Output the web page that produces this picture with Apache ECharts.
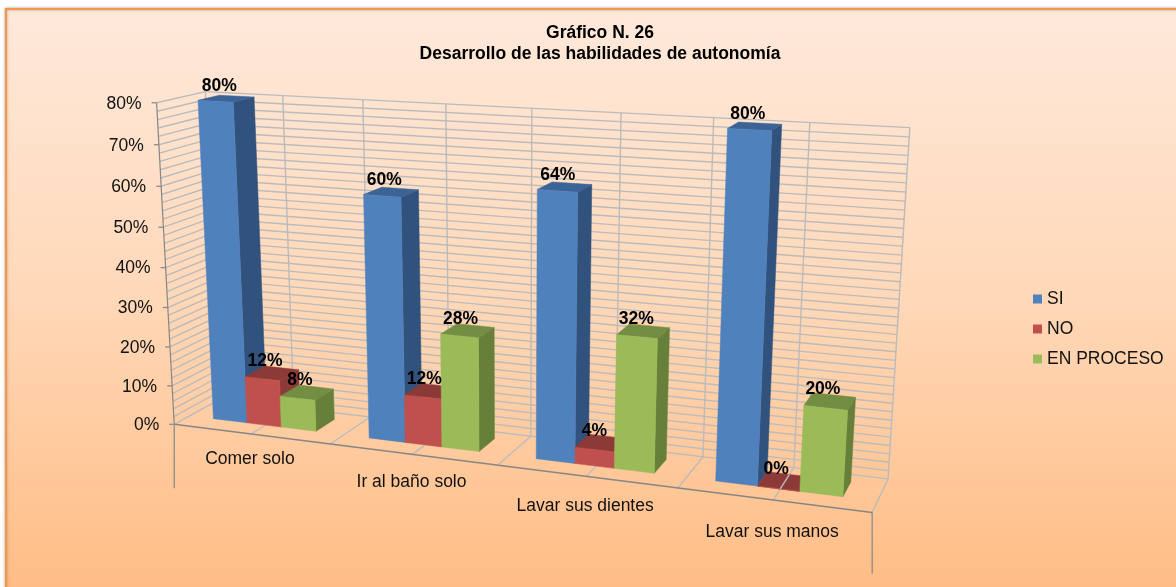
<!DOCTYPE html>
<html>
<head>
<meta charset="utf-8">
<title>Gráfico N. 26</title>
<script src="https://cdn.jsdelivr.net/npm/echarts@6/dist/echarts.min.js"></script>
<style>
html, body { margin: 0; padding: 0; background: #fff; }
#Mycharts { width: 1176px; height: 587px; }
</style>
</head>
<body>
<div id="Mycharts"></div>
<script>
const categories = ['Comer solo', 'Ir al baño solo', 'Lavar sus dientes', 'Lavar sus manos']
const si = [0.80, 0.60, 0.64, 0.80]
const no = [0.12, 0.12, 0.04, 0]
const enProceso = [0.08, 0.28, 0.32, 0.20]
const yTicks = [0, 0.1, 0.2, 0.3, 0.4, 0.5, 0.6, 0.7, 0.8]
const yTickLabels = ['0%', '10%', '20%', '30%', '40%', '50%', '60%', '70%', '80%']
const yMinor = 0.02

// camara: puntos de la caja 3D (u, v, prof, peso) -> pantalla, se resuelve por minimos cuadrados
const anchors = [
  [0, 0, 0, 175, 423, 4], [0, 1, 0, 155, 103, 2], [0, 1, 1, 208, 92, 1], [0, 0, 1, 216, 405, 1],
  [1, 1, 1, 909, 127, 1], [1, 0, 1, 888, 476, 1], [1, 0, 0, 872, 514, 4],
  [0.5, 0, 0, 498, 465, 2], [0.5, 1, 1, 533, 108, 1], [0.5, 0, 1, 532, 433, 1]
]

function solveCamera (pts) {
  const n = 11
  const A = Array.from({ length: n }, () => new Array(n + 1).fill(0))
  pts.forEach(p => {
    const [u, v, d, x, y, wt] = p
    const rows = [
      [u, v, d, 1, 0, 0, 0, 0, -x * u, -x * v, -x * d, x],
      [0, 0, 0, 0, u, v, d, 1, -y * u, -y * v, -y * d, y]
    ]
    rows.forEach(r => {
      for (let i = 0; i < n; i++) {
        for (let j = 0; j <= n; j++) A[i][j] += wt * r[i] * r[j]
      }
    })
  })
  for (let i = 0; i < n; i++) {
    let best = i
    for (let k = i + 1; k < n; k++) if (Math.abs(A[k][i]) > Math.abs(A[best][i])) best = k
    ;[A[i], A[best]] = [A[best], A[i]]
    for (let k = 0; k < n; k++) {
      if (k === i) continue
      const f = A[k][i] / A[i][i]
      for (let j = i; j <= n; j++) A[k][j] -= f * A[i][j]
    }
  }
  return A.map((r, i) => r[n] / r[i])
}

const cam = solveCamera(anchors)
function project (u, v, d) {
  const w = cam[8] * u + cam[9] * v + cam[10] * d + 1
  return [
    (cam[0] * u + cam[1] * v + cam[2] * d + cam[3]) / w,
    (cam[4] * u + cam[5] * v + cam[6] * d + cam[7]) / w
  ]
}

// pasa un punto del grid plano de echarts a la caja en perspectiva
function warp (cs, pt, d) {
  return project((pt[0] - cs.x) / cs.width, (cs.y + cs.height - pt[1]) / cs.height, d)
}

const barW = 0.222
const barShift = -0.009
const depthFront = 0.33
const depthBack = 0.78
const axisColor = '#868686'
const gridColor = '#BBBBBB'
const fontName = '"Liberation Sans", Arial, sans-serif'

function line (a, b, color, width) {
  return {
    type: 'line',
    shape: { x1: a[0], y1: a[1], x2: b[0], y2: b[1] },
    style: { stroke: color, lineWidth: width }
  }
}

function poly (pts, fill) {
  return { type: 'polygon', shape: { points: pts }, style: { fill: fill, stroke: fill, lineWidth: 0.5 } }
}

function renderFrame (params, api) {
  const cs = params.coordSys
  const out = []
  const yMax = yTicks[yTicks.length - 1]
  const left = cs.x
  const right = cs.x + cs.width
  const band = api.size([1, 0])[0]
  // lineas horizontales de pared lateral y fondo
  for (let k = 0; k <= Math.round(yMax / yMinor); k++) {
    const y = api.coord([0, k * yMinor])[1]
    out.push(line(warp(cs, [left, y], 0), warp(cs, [left, y], 1), gridColor, 1.4))
    out.push(line(warp(cs, [left, y], 1), warp(cs, [right, y], 1), gridColor, 1.4))
  }
  // verticales del fondo y lineas del piso cada media categoria
  const top = api.coord([0, yMax])[1]
  const base = api.coord([0, 0])[1]
  for (let k = 0; k <= categories.length * 2; k++) {
    const x = left + k * band / 2
    out.push(line(warp(cs, [x, top], 1), warp(cs, [x, base], 1), gridColor, 1.4))
    if (k > 0) out.push(line(warp(cs, [x, base], 0), warp(cs, [x, base], 1), gridColor, 1.4))
  }
  // ejes
  out.push(line(warp(cs, [left, top], 0), warp(cs, [left, base], 0), axisColor, 1.2))
  out.push(line(warp(cs, [left, base], 0), warp(cs, [right, base], 0), axisColor, 1.5))
  const drop = [warp(cs, [left, base], 0), warp(cs, [right, base], 0)]
  out.push(line(drop[0], [drop[0][0], drop[0][1] + 64], axisColor, 1.2))
  out.push(line(drop[1], [drop[1][0], drop[1][1] + 61], axisColor, 1.2))
  yTicks.forEach((t, i) => {
    const p = warp(cs, [left, api.coord([0, t])[1]], 0)
    out.push(line([p[0] - 5, p[1]], p, axisColor, 1.2))
    out.push({
      type: 'text',
      x: p[0] - 15,
      y: p[1] + 1,
      style: { text: yTickLabels[i], fill: '#111', font: '17.5px ' + fontName, align: 'right', verticalAlign: 'middle' }
    })
  })
  categories.forEach((c, i) => {
    const p = warp(cs, [left + (i + 0.5) * band, base], 0)
    out.push({
      type: 'text',
      x: p[0] - 1,
      y: p[1] + 25 + i * 2.5,
      style: { text: c, fill: '#111', font: '17.5px ' + fontName, align: 'center', verticalAlign: 'middle' }
    })
  })
  return { type: 'group', children: out }
}

function barSeries (name, values, idx, colors) {
  return {
    name: name,
    type: 'custom',
    coordinateSystem: 'cartesian2d',
    data: values.map((v, i) => [i, v]),
    itemStyle: { color: colors.front },
    clip: false,
    z: 3,
    renderItem: function (params, api) {
      const cs = params.coordSys
      const band = api.size([1, 0])[0]
      const val = api.value(1)
      const center = api.coord([api.value(0), 0])
      const x0 = center[0] + ((idx - 1.5) * barW + barShift) * band
      const x1 = x0 + barW * band
      const yb = center[1]
      const yt = api.coord([api.value(0), val])[1]
      const p = (x, y, d) => warp(cs, [x, y], d)
      const kids = [
        poly([p(x1, yb, depthFront), p(x1, yb, depthBack), p(x1, yt, depthBack), p(x1, yt, depthFront)], colors.side),
        poly([p(x0, yt, depthFront), p(x1, yt, depthFront), p(x1, yt, depthBack), p(x0, yt, depthBack)], colors.top),
        poly([p(x0, yb, depthFront), p(x1, yb, depthFront), p(x1, yt, depthFront), p(x0, yt, depthFront)], colors.front)
      ]
      if (val === 0) {
        kids.push(line(p(center[0], yb, depthFront), p(center[0], yb, depthBack), gridColor, 1.4))
      }
      const c = p((x0 + x1) / 2, yt, (depthFront + depthBack) / 2)
      kids.push({
        type: 'text',
        x: c[0] - 7,
        y: c[1] - 12,
        z2: 50,
        style: {
          text: Math.round(val * 100) + '%',
          fill: '#000',
          font: 'bold 17.5px ' + fontName,
          align: 'center',
          verticalAlign: 'middle'
        }
      })
      return { type: 'group', children: kids }
    }
  }
}

const Mycharts = echarts.init(document.getElementById('Mycharts'))
Mycharts.setOption({
  animation: false,
  backgroundColor: '#fff',
  graphic: [{
    type: 'rect',
    z: -10,
    shape: { x: 6, y: 9, width: 1300, height: 700 },
    style: {
      stroke: '#F79646',
      lineWidth: 2,
      shadowBlur: 3,
      shadowColor: 'rgba(0,0,0,0.3)',
      fill: new echarts.graphic.LinearGradient(0, 0, 0, 578 / 700, [
        { offset: 0, color: '#FEE9DB' },
        { offset: 0.5, color: '#FFD8B8' },
        { offset: 1, color: '#FFBD86' }
      ])
    }
  }],
  title: {
    text: 'Gráfico N. 26\nDesarrollo de las habilidades de autonomía',
    left: 595,
    top: 18,
    textAlign: 'center',
    textStyle: { fontFamily: fontName, fontSize: 17.5, fontWeight: 'bold', color: '#000', lineHeight: 21 }
  },
  legend: {
    data: ['SI', 'NO', 'EN PROCESO'],
    orient: 'vertical',
    left: 1028,
    top: 285,
    itemWidth: 9,
    itemHeight: 9,
    itemGap: 12,
    icon: 'rect',
    textStyle: { fontFamily: fontName, fontSize: 17.5, color: '#111' }
  },
  grid: { left: 200, right: 200, top: 100, bottom: 100, show: false },
  xAxis: { type: 'category', data: categories, show: false },
  yAxis: { type: 'value', min: 0, max: 0.8, interval: 0.1, show: false },
  series: [
    {
      name: 'marco',
      type: 'custom',
      coordinateSystem: 'cartesian2d',
      data: [[0, 0]],
      silent: true,
      clip: false,
      z: 1,
      renderItem: renderFrame
    },
    barSeries('SI', si, 0, { front: '#4F81BD', side: '#31527C', top: '#3B6395' }),
    barSeries('NO', no, 1, { front: '#C0504D', side: '#8C3A38', top: '#8C3A38' }),
    barSeries('EN PROCESO', enProceso, 2, { front: '#9BBB59', side: '#667F39', top: '#738E43' })
  ]
})
</script>
</body>
</html>
